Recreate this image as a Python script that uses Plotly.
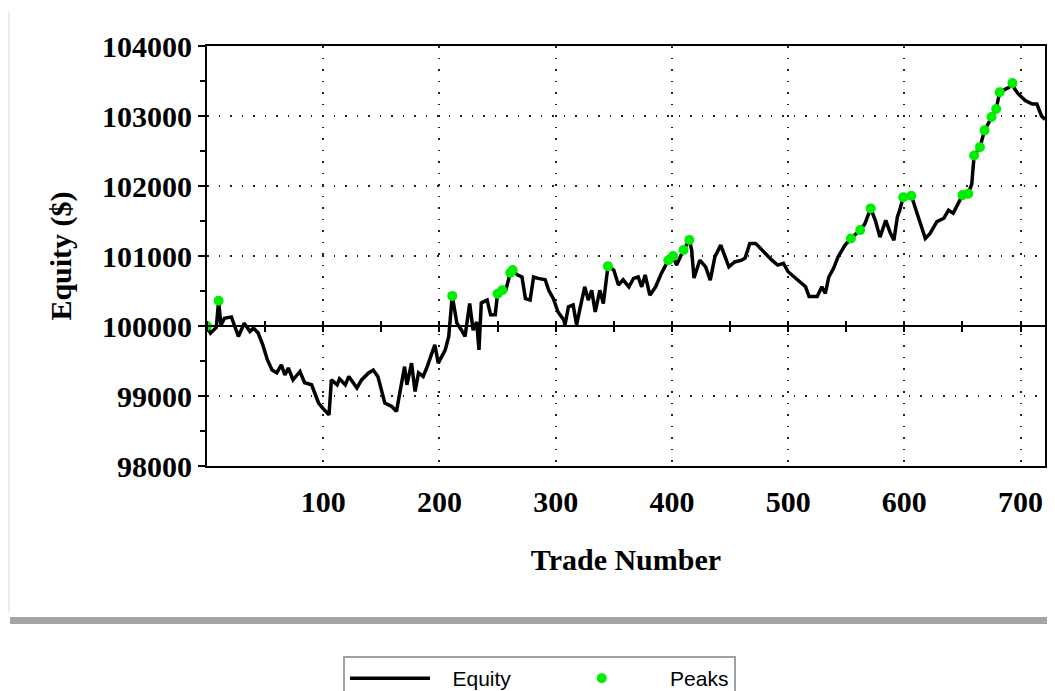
import plotly.graph_objects as go

# Equity curve (trade number, equity in $)
trade = [0, 3, 8, 10, 12, 15, 21, 23, 27, 32, 37, 40, 44, 48, 52, 56, 60, 64, 67, 70,
         74, 80, 84, 90, 96, 101, 105, 107, 112, 114, 119, 122, 129, 133, 139, 143, 147, 153, 159, 163,
         165, 167, 170, 172, 176, 179, 182, 186, 189, 196, 199, 205, 208, 211, 215, 219, 222, 226, 229, 232,
         234, 236, 241, 244, 248, 250, 254, 257, 261, 263, 267, 271, 274, 278, 281, 285, 291, 294, 298, 302,
         307, 308, 311, 315, 318, 321, 325, 328, 331, 334, 338, 341, 345, 350, 354, 358, 363, 367, 371, 374,
         377, 381, 386, 391, 397, 401, 404, 410, 415, 417, 419, 424, 429, 433, 437, 442, 444, 449, 454, 460,
         463, 467, 472, 476, 480, 486, 491, 496, 500, 508, 515, 518, 525, 529, 532, 535, 539, 543, 549, 554,
         562, 566, 571, 575, 579, 584, 588, 591, 594, 596, 599, 606, 609, 614, 618, 622, 628, 634, 638, 642,
         645, 650, 655, 658, 660, 665, 669, 675, 679, 682, 690, 693, 695, 698, 704, 710, 714, 718, 721]
equity = [100000, 99900, 99980, 100360, 100010, 100110, 100130, 100040, 99850, 100040, 99920, 99970, 99900, 99730, 99515, 99370, 99330, 99445, 99300, 99400,
          99230, 99350, 99190, 99160, 98900, 98800, 98730, 99230, 99160, 99245, 99160, 99280, 99115, 99230, 99330, 99370, 99280, 98900, 98850, 98780,
          98975, 99135, 99420, 99160, 99470, 99065, 99330, 99280, 99400, 99730, 99470, 99660, 99850, 100430, 100040, 99940, 99850, 100320, 99940, 100060,
          99660, 100330, 100370, 100160, 100160, 100460, 100510, 100510, 100760, 100800, 100730, 100700, 100390, 100370, 100700, 100680, 100660, 100510, 100390, 100200,
          100085, 100015, 100275, 100300, 100015, 100255, 100560, 100370, 100510, 100200, 100510, 100320, 100855, 100800, 100585, 100660, 100560, 100680, 100700, 100560,
          100730, 100440, 100560, 100755, 100940, 101000, 100870, 101085, 101230, 101085, 100685, 100940, 100845, 100655, 100990, 101155, 101060, 100845, 100915, 100940,
          100970, 101180, 101180, 101110, 101040, 100940, 100870, 100895, 100775, 100655, 100560, 100420, 100420, 100560, 100465, 100700, 100820, 100990, 101155, 101250,
          101370, 101460, 101680, 101510, 101270, 101510, 101325, 101225, 101560, 101655, 101840, 101860, 101700, 101460, 101250, 101320, 101490, 101540, 101655, 101610,
          101700, 101870, 101890, 102030, 102435, 102555, 102795, 102985, 103100, 103340, 103410, 103470, 103385, 103315, 103220, 103170, 103170, 103000, 102950]

# New equity highs (green dots)
peak_trade = [0, 10, 211, 250, 254, 261, 263, 345, 397, 401, 410, 415, 554, 562, 571,
              599, 606, 650, 655, 660, 665, 669, 675, 679, 682, 693]
peak_equity = [100000, 100360, 100430, 100460, 100510, 100760, 100800, 100855, 100940, 101000,
               101085, 101230, 101250, 101370, 101680, 101840, 101860, 101870, 101890, 102435,
               102555, 102795, 102985, 103100, 103340, 103470]

x_ticks = [100, 200, 300, 400, 500, 600, 700]
x_range = [0, 721]
y_range = [98000, 104000]
baseline = 100000

serif = dict(family="Liberation Serif", size=30, color="black", weight="bold")
base_pos = (baseline - y_range[0]) / (y_range[1] - y_range[0])

# the page body has an 8px margin, so the figure is sized to fit the window
W, H = 1047, 683
OFF = 8
NB = "\u00a0"

fig = go.Figure()
fig.add_trace(go.Scatter(x=trade, y=equity, mode="lines", name=NB * 3 + "Equity" + NB * 7,
                         line=dict(color="black", width=3.5)))
fig.add_trace(go.Scatter(x=peak_trade, y=peak_equity, mode="markers",
                         name=NB * 4 + "Peaks",
                         marker=dict(color="#00ee00", size=10)))
# empty traces that carry the baseline axes (axis line + crossing ticks at 100000)
fig.add_trace(go.Scatter(x=[], y=[], xaxis="x2", yaxis="y", showlegend=False, hoverinfo="skip"))
fig.add_trace(go.Scatter(x=[], y=[], xaxis="x3", yaxis="y", showlegend=False, hoverinfo="skip"))

fig.update_layout(
    width=W, height=H,
    margin=dict(l=207 - OFF, r=10, t=46 - OFF, b=225, autoexpand=False),
    paper_bgcolor="white", plot_bgcolor="white",
    showlegend=True,
    legend=dict(orientation="h", xref="container", yref="container",
                x=(343 - OFF) / W, xanchor="left",
                y=1 - (656 - OFF) / H, yanchor="top",
                bordercolor="#a0a0a0", borderwidth=2,
                font=dict(family="Liberation Sans", size=21, color="black"),
                itemwidth=80),
    xaxis=dict(range=x_range, tickvals=x_ticks, ticks="", showline=True, mirror=True,
               linecolor="black", linewidth=2, showgrid=True, gridcolor="#222222",
               griddash="1.5px,10px", gridwidth=1.5, zeroline=False, automargin=False,
               tickfont=serif, ticklabelstandoff=8,
               title=dict(text="Trade Number", font=serif, standoff=32)),
    yaxis=dict(range=y_range, dtick=1000, tickformat="d", ticks="outside", ticklen=7,
               tickwidth=2, tickcolor="black", automargin=False,
               minor=dict(dtick=500, ticks="outside", ticklen=5, tickwidth=2, tickcolor="black",
                          showgrid=False),
               showline=True, mirror=True, linecolor="black", linewidth=2,
               showgrid=True, gridcolor="#222222", griddash="1.5px,10px", gridwidth=1.5,
               zeroline=False, tickfont=serif,
               title=dict(text="Equity ($)", font=serif, standoff=22)),
    xaxis2=dict(overlaying="x", anchor="free", position=base_pos,
                range=x_range, dtick=50, tick0=0, ticks="outside", ticklen=5, tickwidth=2,
                tickcolor="black", showticklabels=False, showgrid=False, zeroline=False,
                showline=True, linecolor="black", linewidth=2, automargin=False),
    xaxis3=dict(overlaying="x", anchor="free", side="top", position=base_pos,
                range=x_range, dtick=50, tick0=0, ticks="outside", ticklen=5, tickwidth=2,
                tickcolor="black", showticklabels=False, showgrid=False, zeroline=False,
                showline=False, automargin=False),
)

# hatched separator bar and faint panel border (paper units of the 838x420 plot area)
fig.add_shape(type="rect", xref="paper", yref="paper",
              x0=(10 - 207) / 838, x1=(1055 - 207) / 838,
              y0=(466 - 624) / 420, y1=(466 - 617) / 420,
              fillcolor="#a4a4a4", line=dict(width=0), layer="below")
fig.add_shape(type="line", xref="paper", yref="paper",
              x0=(9 - 207) / 838, x1=(9 - 207) / 838,
              y0=(466 - 12) / 420, y1=(466 - 612) / 420,
              line=dict(color="#ececec", width=2))

fig.write_html("out.html")
